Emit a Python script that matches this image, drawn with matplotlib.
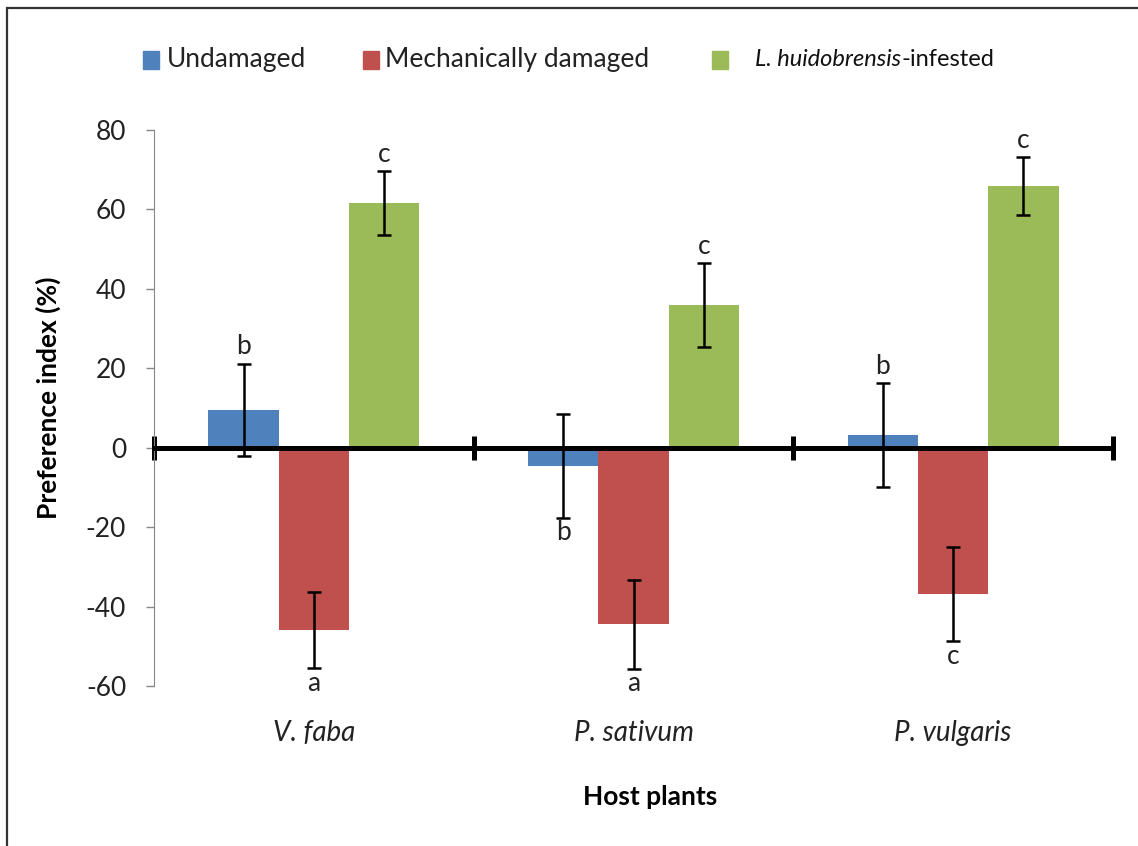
import numpy as np
import matplotlib
matplotlib.use("Agg")
import matplotlib.pyplot as plt
from matplotlib.patches import Rectangle

plt.rcParams["font.family"] = ["Lato", "DejaVu Sans"]
plt.rcParams["axes.unicode_minus"] = False

# data
hosts = ["V. faba", "P. sativum", "P. vulgaris"]
series = ["Undamaged", "Mechanically damaged", "L. huidobrensis-infested"]
undamaged = [9.5, -4.6, 3.2]
undamaged_err = [11.7, 13.0, 13.0]
mechanical = [-45.9, -44.4, -36.8]
mechanical_err = [9.5, 11.2, 11.8]
infested = [61.6, 35.9, 65.9]
infested_err = [8.1, 10.5, 7.2]
letters_und = ["b", "b", "b"]
letters_mech = ["a", "a", "c"]
letters_inf = ["c", "c", "c"]
colors = ["#4F81BD", "#C0504D", "#9BBB59"]

fig = plt.figure(figsize=(11.38, 8.46), dpi=100)
W, H = 1138, 846
ax = fig.add_axes([154 / W, 1 - 686 / H, (1113 - 154) / W, (686 - 130) / H])

x = np.arange(3) + 0.5
w = 0.22
vals = [undamaged, mechanical, infested]
errs = [undamaged_err, mechanical_err, infested_err]
lets = [letters_und, letters_mech, letters_inf]
for i in range(3):
    xs = x + (i - 1) * w
    ax.bar(xs, vals[i], w, color=colors[i], zorder=2)
    ax.errorbar(xs, vals[i], yerr=errs[i], fmt="none", ecolor="black",
                elinewidth=1.8, capsize=5, capthick=1.8, zorder=4)
    for k in range(3):
        above = vals[i][k] > 0
        if i == 0 and k == 1:
            above = False
        if above:
            yy = vals[i][k] + errs[i][k]
            ax.annotate(lets[i][k], (xs[k], yy), xytext=(0, 3), textcoords="offset points",
                        ha="center", va="bottom", fontsize=19, color="#222222")
        else:
            yy = vals[i][k] - errs[i][k]
            ax.annotate(lets[i][k], (xs[k], yy), xytext=(0, -2), textcoords="offset points",
                        ha="center", va="top", fontsize=19, color="#222222")

ax.set_xlim(0, 3)
ax.set_ylim(-60, 80)
ax.set_yticks(range(-60, 81, 20))
ax.tick_params(axis="y", direction="out", length=6, width=1, color="#868686",
               labelsize=19, pad=14, labelcolor="#222222")
ax.spines["left"].set_color("#868686")
ax.spines["top"].set_visible(False)
ax.spines["right"].set_visible(False)
ax.spines["bottom"].set_position(("data", 0))
ax.spines["bottom"].set_linewidth(3.6)
ax.spines["bottom"].set_zorder(3)
ax.set_xticks([0, 1, 2, 3])
ax.set_xticklabels([])
ax.tick_params(axis="x", direction="inout", length=17, width=3.6, color="black")

for k, name in enumerate(hosts):
    ax.text(x[k], -0.085, name, transform=ax.get_xaxis_transform(), ha="center",
            va="center", fontsize=20, style="italic", color="#222222")

fig.text(650 / W, 1 - 797 / H, "Host plants", ha="center", va="center",
         fontsize=19, fontweight="bold")
fig.text(48 / W, 1 - 398 / H, "Preference index (%)", ha="center", va="center",
         fontsize=19, fontweight="bold", rotation=90)

# legend
leg_y = 1 - 60 / H
sq = 16
for px, c in zip([143, 363, 712], colors):
    fig.add_artist(Rectangle((px / W, (846 - 69) / H), sq / W, sq * 1.1 / H,
                             color=c, transform=fig.transFigure))
fig.text(167 / W, leg_y, series[0], va="center", fontsize=19, color="#222222")
fig.text(385 / W, leg_y, series[1], va="center", fontsize=19, color="#222222")
t = fig.text(755 / W, leg_y, "L. huidobrensis", va="center", fontsize=17,
             style="italic", color="#111111")
fig.canvas.draw()
bb = t.get_window_extent()
fig.text(bb.x1 / W, leg_y, "-infested", va="center", fontsize=17, color="#111111")

# outer frame
fig.add_artist(Rectangle((7 / W, -0.1), 1.2, 1 - 8 / H + 0.1, fill=False,
                         edgecolor="#333333", linewidth=1.6, transform=fig.transFigure))

fig.savefig("out.png", dpi=100)
